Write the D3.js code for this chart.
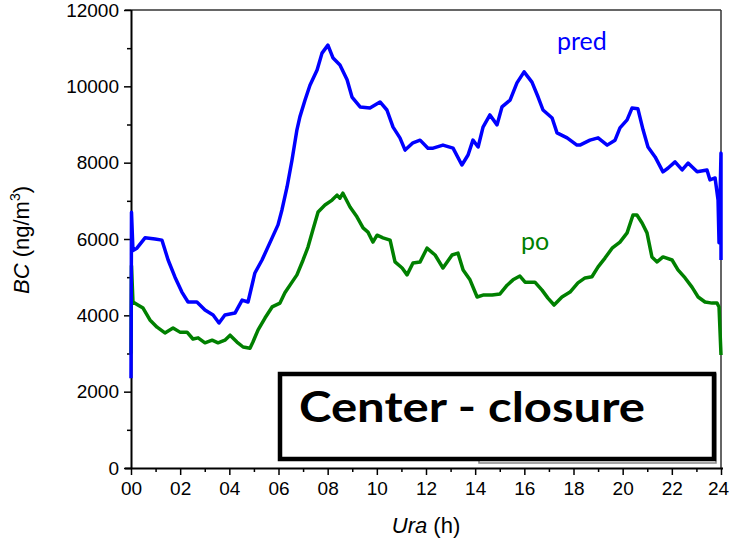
<!DOCTYPE html>
<html lang="en">
<head>
  <meta charset="UTF-8">
  <script src="https://d3js.org/d3.v7.min.js"></script>
  <title>BC - Center closure</title>
  <style>
    body { margin: 0; background: white; }
    svg { display: block; }
    .tick text { font-family: "Liberation Sans", Arial, sans-serif; font-size: 19px; fill: #000; }
  </style>
</head>
<body>
<div id="chart"></div>
<script>
  // hours and BC values
  var predHours = [0, 0.02, 0.08, 0.24, 0.57, 0.98, 1.26, 1.51, 1.79, 2.07, 2.32, 2.68, 3.01, 3.34, 3.58, 3.82,
    4.23, 4.52, 4.76, 5.04, 5.33, 5.74, 5.98, 6.14, 6.35, 6.55, 6.75, 6.87, 7.08, 7.28, 7.57, 7.77, 8.01,
    8.22, 8.50, 8.79, 8.99, 9.32, 9.72, 10.13, 10.41, 10.66, 10.94, 11.15, 11.47, 11.76, 12.08, 12.29,
    12.69, 13.10, 13.46, 13.71, 13.91, 14.12, 14.32, 14.60, 14.89, 15.09, 15.42, 15.70, 15.99, 16.31,
    16.56, 16.76, 17.13, 17.33, 17.74, 18.14, 18.26, 18.67, 19.00, 19.37, 19.69, 19.89, 20.18, 20.38,
    20.62, 20.83, 21.03, 21.32, 21.64, 21.85, 22.13, 22.42, 22.66, 23.03, 23.43, 23.55, 23.76, 23.88,
    23.92, 24, 24];
  var predValues = [2350, 6700, 5700, 5760, 6030, 6000, 5970, 5450, 5000, 4610, 4350, 4350, 4140, 4010, 3800, 4010,
    4060, 4400, 4350, 5110, 5450, 6030, 6370, 6760, 7370, 8070, 8860, 9200, 9640, 10030, 10430, 10870, 11080,
    10740, 10560, 10170, 9720, 9460, 9430, 9590, 9380, 8930, 8650, 8330, 8520, 8590, 8380, 8380,
    8460, 8380, 7940, 8200, 8590, 8410, 8930, 9250, 8990, 9460, 9640, 10090, 10380, 10110,
    9720, 9380, 9170, 8780, 8650, 8460, 8460, 8590, 8650, 8460, 8590, 8910, 9120, 9430,
    9410, 8860, 8410, 8150, 7760, 7860, 8020, 7810, 7990, 7760, 7810, 7550, 7600, 7020,
    5900, 8250, 5450];

  var poHours = [0, 0.02, 0.08, 0.28, 0.49, 0.77, 1.06, 1.38, 1.71, 1.99, 2.28, 2.52, 2.73, 3.01, 3.30, 3.54, 3.82,
    4.03, 4.31, 4.56, 4.84, 4.96, 5.17, 5.45, 5.74, 6.06, 6.26, 6.55, 6.75, 7.00, 7.20, 7.40, 7.61, 7.89,
    8.18, 8.38, 8.50, 8.62, 8.91, 9.19, 9.44, 9.64, 9.84, 10.01, 10.25, 10.54, 10.74, 11.03, 11.23, 11.47,
    11.76, 12.04, 12.37, 12.69, 13.06, 13.30, 13.51, 13.79, 14.08, 14.32, 14.69, 15.01, 15.30, 15.54, 15.82,
    16.03, 16.43, 16.72, 16.96, 17.21, 17.53, 17.86, 18.18, 18.47, 18.75, 19.00, 19.28, 19.57, 19.89, 20.18,
    20.42, 20.58, 20.79, 20.99, 21.19, 21.40, 21.64, 22.01, 22.25, 22.54, 22.82, 23.07, 23.35, 23.64, 23.84,
    23.92, 24];
  var poValues = [3000, 5300, 4350, 4270, 4190, 3880, 3690, 3540, 3670, 3560, 3560, 3380, 3410, 3280, 3350, 3280, 3350,
    3480, 3300, 3170, 3140, 3300, 3620, 3930, 4220, 4320, 4590, 4870, 5060, 5450, 5790, 6240, 6710, 6890,
    7020, 7150, 7070, 7200, 6840, 6580, 6290, 6180, 5920, 6100, 6030, 5970, 5400, 5240, 5060, 5370,
    5400, 5760, 5580, 5240, 5580, 5630, 5190, 4930, 4480, 4530, 4530, 4560, 4790, 4930, 5030,
    4870, 4870, 4660, 4450, 4270, 4480, 4610, 4850, 4980, 5010, 5270, 5500, 5760, 5920, 6160,
    6630, 6630, 6420, 6160, 5530, 5400, 5530, 5450, 5190, 4980, 4740, 4480, 4350, 4320, 4320,
    4220, 2960];

  var xTicks = d3.range(0, 25, 2);
  var xMinor = d3.range(1, 24, 2);
  var yTicks = d3.range(0, 12001, 2000);
  var yMinor = d3.range(1000, 12000, 2000);

  var W = 730, H = 548;
  var margin = { top: 10, right: 9, bottom: 80, left: 131 };
  var width = W - margin.left - margin.right,
      height = H - margin.top - margin.bottom;

  var svg = d3.select("#chart").append("svg")
    .attr("width", W).attr("height", H);
  var g = svg.append("g")
    .attr("transform", "translate(" + margin.left + "," + margin.top + ")");

  var x = d3.scaleLinear().domain([0, 24]).range([0, width]);
  var y = d3.scaleLinear().domain([0, 12000]).range([height, 0]);

  // frame top + right
  g.append("line").attr("x1", -6).attr("x2", width).attr("y1", 0).attr("y2", 0)
    .attr("stroke", "#333").attr("stroke-width", 1.5);
  g.append("line").attr("x1", width).attr("x2", width).attr("y1", 0).attr("y2", height)
    .attr("stroke", "#333").attr("stroke-width", 1.5);

  // minor ticks
  g.append("g").attr("transform", "translate(0," + height + ")")
    .call(d3.axisBottom(x).tickValues(xMinor).tickSize(4).tickFormat(""))
    .call(a => a.select(".domain").remove())
    .selectAll("line").attr("stroke-width", 1.5);
  g.append("g")
    .call(d3.axisLeft(y).tickValues(yMinor).tickSize(4).tickFormat(""))
    .call(a => a.select(".domain").remove())
    .selectAll("line").attr("stroke-width", 1.5);

  // major ticks
  var xAxis = g.append("g").attr("transform", "translate(0," + height + ")")
    .call(d3.axisBottom(x).tickValues(xTicks).tickSize(7).tickPadding(7)
      .tickFormat(d => d3.format("02d")(d)));
  xAxis.select(".domain").attr("d", "M-6,0.5H" + (width + 2)).attr("stroke-width", 2);
  xAxis.selectAll(".tick line").attr("stroke-width", 1.5);
  xAxis.selectAll(".tick text").filter(d => d === 24).attr("dx", -3);

  var yAxis = g.append("g")
    .call(d3.axisLeft(y).tickValues(yTicks).tickSize(7).tickPadding(5)
      .tickFormat(d3.format("d")));
  yAxis.select(".domain").attr("d", "M0.5,0V" + height).attr("stroke-width", 2);
  yAxis.selectAll(".tick line").attr("stroke-width", 1.5);

  // axis titles
  var xt = svg.append("text")
    .attr("x", 426).attr("y", 533).attr("text-anchor", "middle")
    .style("font-family", "Liberation Sans, Arial, sans-serif").style("font-size", "22px");
  xt.append("tspan").attr("font-style", "italic").text("Ura");
  xt.append("tspan").text(" (h)");

  var yt = svg.append("text")
    .attr("transform", "translate(29,240) rotate(-90)").attr("text-anchor", "middle")
    .style("font-family", "Liberation Sans, Arial, sans-serif").style("font-size", "22px");
  yt.append("tspan").attr("font-style", "italic").text("BC");
  yt.append("tspan").text(" (ng/m");
  yt.append("tspan").attr("font-size", "14px").attr("dy", -9).text("3");
  yt.append("tspan").attr("dy", 9).text(")");

  // closure box
  svg.append("rect").attr("x", 479).attr("y", 374).attr("width", 237).attr("height", 89)
    .attr("fill", "none").attr("stroke", "#888").attr("stroke-width", 1.5);
  svg.append("rect").attr("x", 280).attr("y", 374).attr("width", 434).attr("height", 85)
    .attr("fill", "white").attr("stroke", "#000").attr("stroke-width", 4.5);
  svg.append("text").attr("x", 299).attr("y", 422)
    .attr("textLength", 346).attr("lengthAdjust", "spacingAndGlyphs")
    .style("font-family", "Lato, 'Open Sans', sans-serif").style("font-weight", "bold")
    .style("font-size", "42px").text("Center - closure");

  // lines
  var line = d3.line().x(d => x(d[0])).y(d => y(d[1]));
  var pred = predHours.map((h, i) => [h, predValues[i]]);
  var po = poHours.map((h, i) => [h, poValues[i]]);

  g.append("path").datum(po).attr("d", line)
    .attr("fill", "none").attr("stroke", "#008000").attr("stroke-width", 3.5)
    .attr("stroke-linejoin", "round");
  g.append("path").datum(pred).attr("d", line)
    .attr("fill", "none").attr("stroke", "#0000ff").attr("stroke-width", 3.5)
    .attr("stroke-linejoin", "round");

  // series labels
  svg.append("text").attr("x", 557).attr("y", 50)
    .style("font-family", "Lato, 'Open Sans', sans-serif").style("font-size", "25px")
    .attr("fill", "#0000ff").text("pred");
  svg.append("text").attr("x", 521).attr("y", 250)
    .style("font-family", "Lato, 'Open Sans', sans-serif").style("font-size", "25px")
    .attr("fill", "#008000").text("po");
</script>
</body>
</html>
